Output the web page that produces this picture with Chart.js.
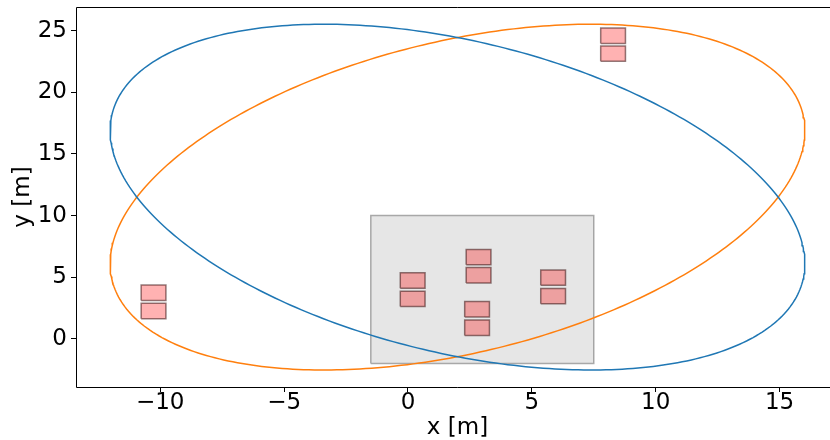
<!DOCTYPE html>
<html>
<head>
<meta charset="utf-8">
<script src="https://cdn.jsdelivr.net/npm/chart.js@4"></script>
<style>
  html, body { margin: 0; padding: 0; background: #fff; overflow: hidden; }
  #wrap { width: 845px; height: 440px; }
</style>
</head>
<body>
<div id="wrap"><canvas id="plot" width="845" height="440"></canvas></div>
<script>
// tick labels
const xTicks = [-10, -5, 0, 5, 10, 15];
const yTicks = [0, 5, 10, 15, 20, 25];

// ellipses (data units): centre, semi axes, rotation in degrees
const ellipseCx    = [2, 2];
const ellipseCy    = [11.5, 11.5];
const ellipseA     = [16.5, 16.5];
const ellipseB     = [11, 11];
const ellipseAngle = [-45, 45];
const ellipseColor = ['#1f77b4', '#ff7f0e'];

// grey area corners
const areaX = [-1.5, 7.5];
const areaY = [-2, 10];

// boxes: centre x, centre y, width, height
const boxCx = [-10.27, -10.27, 0.19, 0.19, 2.85, 2.85, 2.79, 2.79, 5.86, 5.86, 8.28, 8.28];
const boxCy = [3.75, 2.27, 4.74, 3.25, 6.63, 5.16, 2.40, 0.91, 4.97, 3.47, 24.59, 23.14];
const boxW  = [1, 1, 1, 1, 1, 1, 1, 1, 1, 1, 1, 1];
const boxH  = [1.25, 1.25, 1.25, 1.25, 1.25, 1.25, 1.25, 1.25, 1.25, 1.25, 1.25, 1.25];

const rectPts = (x0, x1, y0, y1) => [
  { x: x0, y: y0 }, { x: x1, y: y0 }, { x: x1, y: y1 }, { x: x0, y: y1 }, { x: x0, y: y0 }
];

function ellipsePts(i) {
  const pts = [], phi = ellipseAngle[i] * Math.PI / 180;
  for (let k = 0; k <= 360; k++) {
    const t = k * Math.PI / 180;
    const u = ellipseA[i] * Math.cos(t), v = ellipseB[i] * Math.sin(t);
    pts.push({ x: ellipseCx[i] + u * Math.cos(phi) - v * Math.sin(phi),
               y: ellipseCy[i] + u * Math.sin(phi) + v * Math.cos(phi) });
  }
  return pts;
}

const datasets = [];
ellipseCx.forEach((_, i) => datasets.push({
  data: ellipsePts(i), showLine: true, borderColor: ellipseColor[i], borderWidth: 1.5,
  pointRadius: 0, fill: false, tension: 0, order: 0
}));
boxCx.forEach((cx, i) => datasets.push({
  data: rectPts(cx - boxW[i] / 2, cx + boxW[i] / 2, boxCy[i] - boxH[i] / 2, boxCy[i] + boxH[i] / 2),
  showLine: true, borderColor: 'rgba(40,0,0,0.5)', borderWidth: 1.5,
  backgroundColor: 'rgba(255,0,0,0.3)', fill: 'shape', pointRadius: 0, tension: 0, order: 1
}));
datasets.push({
  data: rectPts(areaX[0], areaX[1], areaY[0], areaY[1]),
  showLine: true, borderColor: 'rgba(128,128,128,0.65)', borderWidth: 1.5,
  backgroundColor: 'rgba(128,128,128,0.2)', fill: 'shape', pointRadius: 0, tension: 0, order: 2
});

const font = { family: 'DejaVu Sans', size: 23 };
// white background plus the top and left spines (right spine lies off the page)
const frame = {
  id: 'frame',
  beforeDraw(c) {
    const g = c.ctx; g.save(); g.fillStyle = '#fff'; g.fillRect(0, 0, c.width, c.height); g.restore();
  },
  afterDraw(c) {
    const a = c.chartArea, g = c.ctx;
    const l = Math.round(a.left) + 0.5, t = Math.round(a.top) + 0.5, b = Math.round(a.bottom) + 0.5;
    g.save(); g.strokeStyle = '#000'; g.lineWidth = 1;
    g.beginPath();
    g.moveTo(a.right, t); g.lineTo(l, t); g.lineTo(l, b); g.lineTo(a.right, b);
    g.stroke();
    g.restore();
  }
};

new Chart(document.getElementById('plot').getContext('2d'), {
  type: 'scatter',
  data: { datasets },
  plugins: [frame],
  options: {
    responsive: false, animation: false,
    layout: { padding: { left: 0, top: 7, right: 6, bottom: 0 } },
    plugins: { legend: { display: false }, tooltip: { enabled: false } },
    scales: {
      x: {
        type: 'linear', min: -13.4, max: 17.4,
        border: { display: false },
        grid: { drawOnChartArea: false, drawTicks: true, tickLength: 5, color: '#000' },
        ticks: { font, color: '#000', padding: -3, maxRotation: 0,
                 callback: v => String(v).replace('-', '\u2212') },
        title: { display: true, text: 'x [m]', font, color: '#000', padding: { top: 0, bottom: -2 } },
        afterBuildTicks: s => { s.ticks = xTicks.map(v => ({ value: v })); },
        afterFit: s => { s.height = 53; s.paddingLeft = 0; s.paddingRight = 0; }
      },
      y: {
        type: 'linear', min: -3.9, max: 26.92,
        border: { display: false },
        grid: { drawOnChartArea: false, drawTicks: true, tickLength: 5, color: '#000' },
        ticks: { font, color: '#000', padding: 4,
                 callback: v => String(v).replace('-', '\u2212') },
        title: { display: true, text: 'y [m]', font, color: '#000', padding: { top: 9, bottom: 0 } },
        afterBuildTicks: s => { s.ticks = yTicks.map(v => ({ value: v })); },
        afterFit: s => { s.width = 76; s.paddingTop = 0; s.paddingBottom = 0; }
      }
    }
  }
});
</script>
</body>
</html>
